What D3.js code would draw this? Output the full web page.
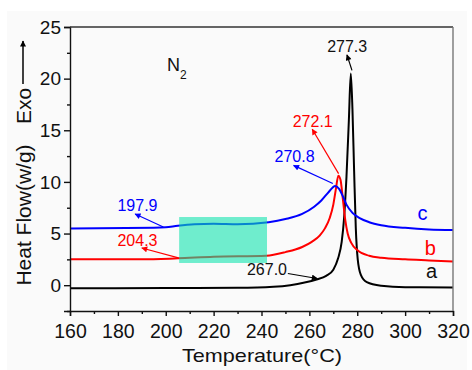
<!DOCTYPE html>
<html>
<head>
<meta charset="utf-8">
<script src="https://cdn.jsdelivr.net/npm/d3@7.9.0/dist/d3.min.js"></script>
<style>
  body { margin: 0; background: #fff; }
  svg text { font-family: "Liberation Sans", Arial, sans-serif; }
</style>
</head>
<body>
<div id="chart"></div>
<script>
// DSC curves (temperature in C, heat flow in W/g)
const tempA = [160, 200, 230, 245, 252, 258, 263, 267, 270, 272, 273.5, 274.5, 275.5, 276.5, 277.3, 278, 278.7, 279.4, 280.2, 281.5, 284, 290, 300, 320];
const flowA = [-0.3, -0.28, -0.25, -0.15, 0.0, 0.25, 0.55, 0.9, 1.5, 2.6, 4.2, 6.5, 10.5, 16, 20.5, 17, 11, 5.5, 2.5, 1.0, 0.3, -0.05, -0.2, -0.22];

const tempB = [160, 190, 205, 220, 242, 250, 257, 261, 264.3, 266.5, 268.5, 270, 271, 272.1, 273, 274, 275, 276, 277.5, 280, 285, 290, 300, 310, 320];
const flowB = [2.5, 2.5, 2.6, 2.75, 2.85, 3.2, 3.7, 4.2, 4.8, 5.5, 6.5, 7.8, 9.2, 10.6, 10.2, 8.3, 6.3, 5.0, 4.1, 3.4, 2.85, 2.65, 2.5, 2.4, 2.3];

const tempC = [160, 195, 200, 205, 212, 220, 230, 243, 250, 257, 262, 265, 268, 270.8, 272.5, 274, 275.5, 278, 281, 285, 290, 300, 310, 320];
const flowC = [5.5, 5.55, 5.6, 5.75, 5.9, 5.95, 5.9, 6.1, 6.4, 6.9, 7.6, 8.2, 9.0, 9.6, 9.3, 8.6, 7.8, 7.0, 6.5, 6.1, 5.8, 5.55, 5.4, 5.35];

const xTicks = [160, 180, 200, 220, 240, 260, 280, 300, 320];
const yTicks = [0, 5, 10, 15, 20, 25];

// highlighted glass transition window
const boxT = [205.6, 242.3];
const boxV = [2.15, 6.6];

// annotations: label, colour, text position, arrow from -> to
const notes = [
  { label: "277.3", color: "#000", tx: 275.8, ty: 22.6, from: [277.8, 20.8], to: [275.7, 22.3] },
  { label: "272.1", color: "#ff0000", tx: 261.4, ty: 15.3, from: [272.2, 10.8], to: [261.2, 15.1] },
  { label: "270.8", color: "#0000ff", tx: 253.8, ty: 11.9, from: [269.8, 9.85], to: [253.4, 11.6] },
  { label: "197.9", color: "#0000ff", tx: 188.2, ty: 7.16, from: [199, 5.64], to: [187.2, 6.9] },
  { label: "204.3", color: "#ff0000", tx: 188.2, ty: 3.8, from: [205.3, 2.65], to: [190, 3.6] },
  { label: "267.0", color: "#000", tx: 242.3, ty: 1.03, from: [251, 1.13], to: [263.3, 0.65] }
];

const seriesLabels = [
  { label: "c", color: "#0000ff", t: 307.3, v: 6.3 },
  { label: "b", color: "#ff0000", t: 310.5, v: 2.9 },
  { label: "a", color: "#000", t: 311, v: 0.65 }
];

const width = 472, height = 370;
const margin = { top: 27, right: 19, bottom: 59, left: 70 };

const svg = d3.select("#chart").append("svg")
  .attr("width", width)
  .attr("height", height);

// faint grey page behind the figure
svg.append("rect").attr("x", 7).attr("y", 11).attr("width", 460).attr("height", 359).attr("fill", "#fafafa");

const x = d3.scaleLinear().domain([160, 320]).range([margin.left, width - margin.right]);
const y = d3.scaleLinear().domain([-2.5, 25]).range([height - margin.bottom, margin.top]);

const defs = svg.append("defs");
["#000", "#ff0000", "#0000ff"].forEach((c, i) => {
  defs.append("marker")
    .attr("id", "arr" + i)
    .attr("viewBox", "0 0 10 10")
    .attr("refX", 9).attr("refY", 5)
    .attr("markerWidth", 7).attr("markerHeight", 6)
    .attr("markerUnits", "userSpaceOnUse")
    .attr("orient", "auto")
    .append("path")
    .attr("d", "M0,0 L10,5 L0,10 z")
    .attr("fill", c);
});
const markerFor = c => c === "#000" ? "url(#arr0)" : c === "#ff0000" ? "url(#arr1)" : "url(#arr2)";

// curves
const line = d3.line()
  .x(d => x(d[0]))
  .y(d => y(d[1]))
  .curve(d3.curveMonotoneX);

const series = [
  { t: tempA, f: flowA, color: "#000" },
  { t: tempB, f: flowB, color: "#ff0000" },
  { t: tempC, f: flowC, color: "#0000ff" }
];

series.forEach(s => {
  svg.append("path")
    .datum(s.t.map((t, i) => [t, s.f[i]]))
    .attr("d", line)
    .attr("fill", "none")
    .attr("stroke", s.color)
    .attr("stroke-width", 2);
});

// translucent box drawn on top of the curves
svg.append("rect")
  .attr("x", x(boxT[0]))
  .attr("y", y(boxV[1]))
  .attr("width", x(boxT[1]) - x(boxT[0]))
  .attr("height", y(boxV[0]) - y(boxV[1]))
  .attr("fill", "#0ae4ad")
  .attr("opacity", 0.58);

// axes
const yAxis = svg.append("g")
  .attr("transform", `translate(${margin.left},0)`)
  .call(d3.axisLeft(y).tickValues(yTicks).tickSize(6).tickPadding(3).tickFormat(d3.format("d")));
svg.append("g")
  .attr("transform", `translate(${margin.left},0)`)
  .call(d3.axisLeft(y).tickValues(d3.range(-2.5, 25, 5)).tickSize(3).tickFormat(""))
  .call(g => g.select(".domain").remove());

const xAxis = svg.append("g")
  .attr("transform", `translate(0,${height - margin.bottom})`)
  .call(d3.axisBottom(x).tickValues(xTicks).tickSize(5).tickPadding(8).tickFormat(d3.format("d")));
svg.append("g")
  .attr("transform", `translate(0,${height - margin.bottom})`)
  .call(d3.axisBottom(x).tickValues(d3.range(170, 320, 20)).tickSize(3).tickFormat(""))
  .call(g => g.select(".domain").remove());

svg.selectAll(".domain, .tick line").attr("stroke", "#111").attr("stroke-width", 1.4);
yAxis.selectAll("text").attr("font-size", 19).attr("fill", "#111");
xAxis.selectAll("text").attr("font-size", 19.5).attr("fill", "#111");

// top and right frame
svg.append("line")
  .attr("x1", margin.left).attr("x2", width - margin.right)
  .attr("y1", margin.top).attr("y2", margin.top)
  .attr("stroke", "#333").attr("stroke-width", 1.4);
svg.append("line")
  .attr("x1", width - margin.right).attr("x2", width - margin.right)
  .attr("y1", margin.top).attr("y2", height - margin.bottom)
  .attr("stroke", "#777").attr("stroke-width", 1.4);

// axis titles
svg.append("text")
  .attr("x", 262).attr("y", 362)
  .attr("text-anchor", "middle")
  .attr("font-size", 19)
  .attr("textLength", 160)
  .attr("lengthAdjust", "spacingAndGlyphs")
  .attr("fill", "#111")
  .text("Temperature(\u00B0C)");

svg.append("text")
  .attr("transform", "translate(31,215) rotate(-90)")
  .attr("text-anchor", "middle")
  .attr("font-size", 21)
  .attr("fill", "#111")
  .text("Heat Flow(w/g)");
svg.append("text")
  .attr("transform", "translate(31,106) rotate(-90)")
  .attr("text-anchor", "middle")
  .attr("font-size", 21)
  .attr("fill", "#111")
  .text("Exo");
svg.append("line")
  .attr("x1", 23).attr("x2", 23)
  .attr("y1", 84).attr("y2", 41)
  .attr("stroke", "#111").attr("stroke-width", 1.6)
  .attr("marker-end", "url(#arr0)");

// N2
const n2 = svg.append("text")
  .attr("x", x(200.5)).attr("y", y(20.75))
  .attr("font-size", 18)
  .attr("fill", "#111");
n2.append("tspan").text("N");
n2.append("tspan").attr("font-size", 12).attr("dy", 8).text("2");

// peak / transition annotations
notes.forEach(n => {
  svg.append("line")
    .attr("x1", x(n.from[0])).attr("y1", y(n.from[1]))
    .attr("x2", x(n.to[0])).attr("y2", y(n.to[1]))
    .attr("stroke", n.color).attr("stroke-width", 1.2)
    .attr("marker-end", markerFor(n.color));
  svg.append("text")
    .attr("x", x(n.tx)).attr("y", y(n.ty))
    .attr("text-anchor", "middle")
    .attr("font-size", 16)
    .attr("fill", n.color === "#000" ? "#111" : n.color)
    .text(n.label);
});

seriesLabels.forEach(s => {
  svg.append("text")
    .attr("x", x(s.t)).attr("y", y(s.v))
    .attr("text-anchor", "middle")
    .attr("font-size", 20)
    .attr("fill", s.color === "#000" ? "#111" : s.color)
    .text(s.label);
});
</script>
</body>
</html>
